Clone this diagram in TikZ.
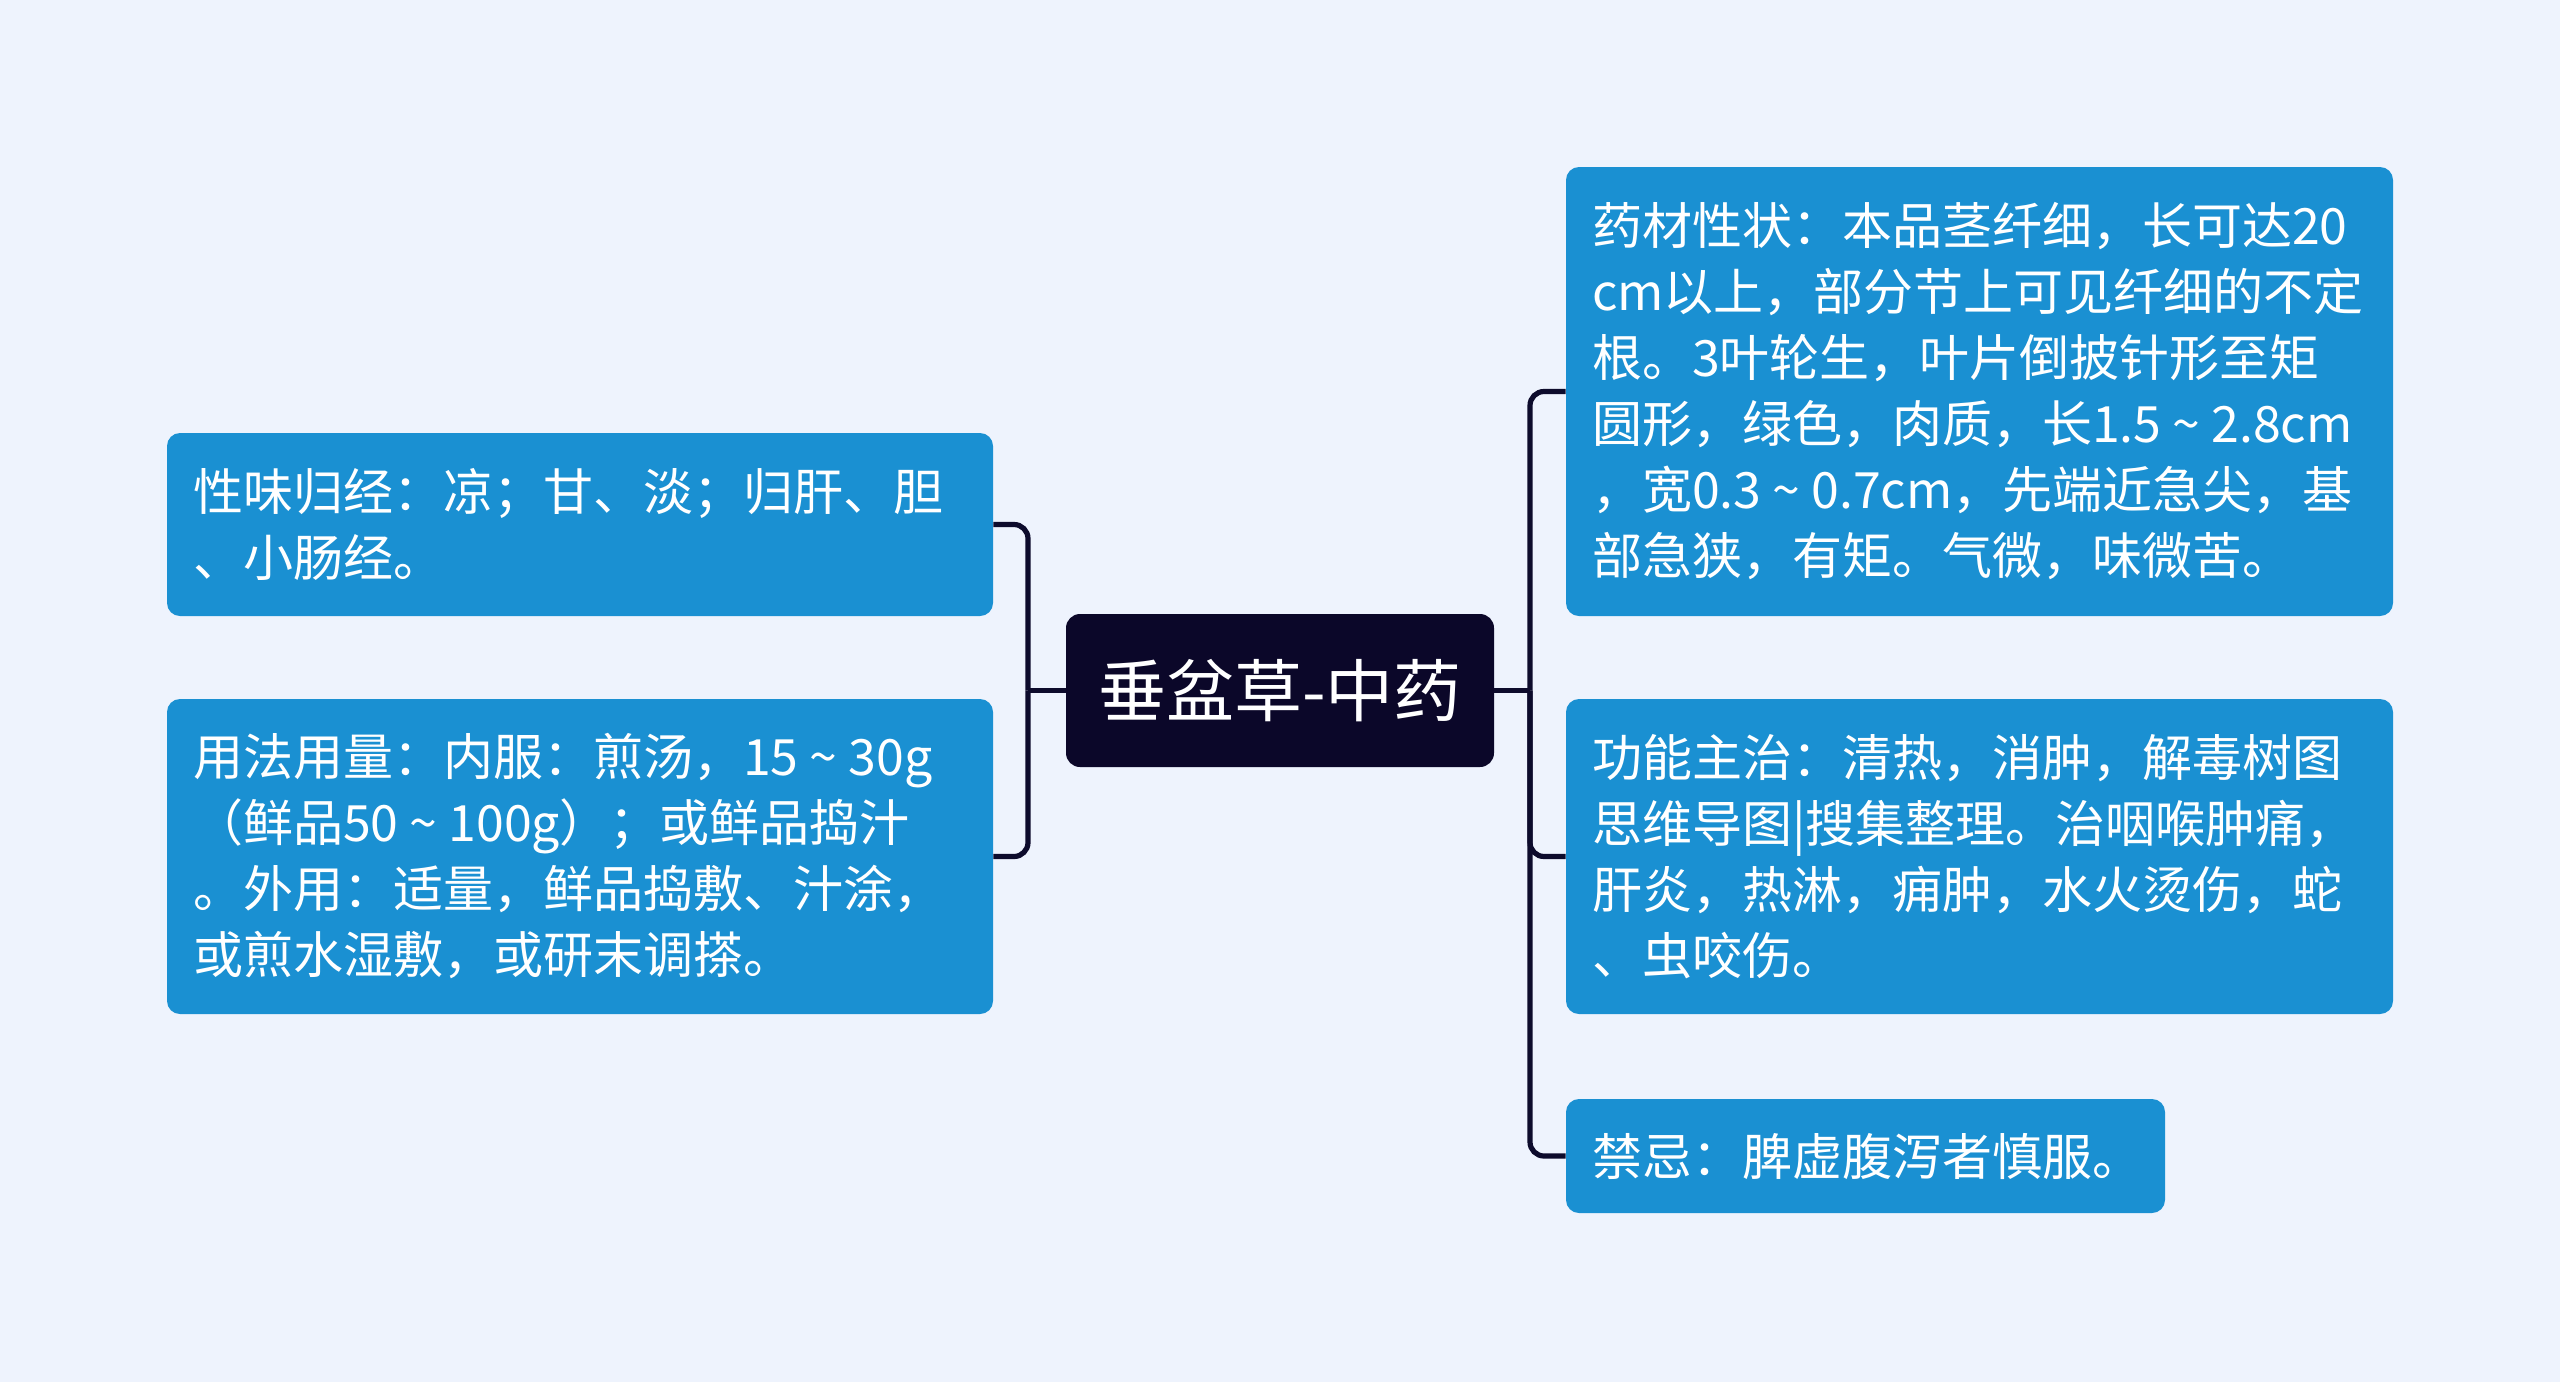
\documentclass[tikz,border=0pt]{standalone}
\usepackage{fontspec}
\setmainfont{Noto Sans CJK SC}
\definecolor{bgc}{HTML}{EEF3FD}
\definecolor{boxc}{HTML}{1A90D2}
\definecolor{rootc}{HTML}{0B0729}
\definecolor{linec}{HTML}{0D0B2C}
\newcommand{\wave}{\makebox[1em][c]{\textasciitilde}}
\begin{document}
\begin{tikzpicture}[x=1pt,y=1pt,
  leaf/.style={fill=boxc, rounded corners=6.5pt, text=white, align=left,
    font=\fontsize{25}{33}\selectfont, inner xsep=13pt, inner ysep=0pt},
  rootbox/.style={fill=rootc, rounded corners=7pt, text=white,
    font=\fontsize{34}{40}\selectfont, minimum width=214pt, minimum height=76.5pt, inner sep=0pt},
  conn/.style={draw=linec, line width=2.6pt, rounded corners=7pt}]
\fill[bgc] (0,0) rectangle (1280,-691);
\useasboundingbox (0,0) rectangle (1280,-691);

\node[rootbox] (c) at (640,-345.25) {垂盆草-中药};

\node[leaf, text width=387pt, minimum height=91.5pt] (l1) at (290,-262.25)
  {性味归经：凉；甘、淡；归肝、胆\\、小肠经。};
\node[leaf, text width=387pt, minimum height=157.5pt] (l2) at (290,-428.25)
  {用法用量：内服：煎汤，15\wave30g\\（鲜品50\wave100g）；或鲜品捣汁\\。外用：适量，鲜品捣敷、汁涂，\\或煎水湿敷，或研末调搽。};

\node[leaf, text width=387.5pt, minimum height=224.5pt] (r1) at (989.75,-195.75)
  {药材性状：本品茎纤细，长可达20\\cm以上，部分节上可见纤细的不定\\根。3叶轮生，叶片倒披针形至矩\\圆形，绿色，肉质，长1.5\wave2.8cm\\，宽0.3\wave0.7cm，先端近急尖，基\\部急狭，有矩。气微，味微苦。};
\node[leaf, text width=387.5pt, minimum height=157.5pt] (r2) at (989.75,-428.25)
  {功能主治：清热，消肿，解毒树图\\思维导图|搜集整理。治咽喉肿痛，\\肝炎，热淋，痈肿，水火烫伤，蛇\\、虫咬伤。};
\node[leaf, text width=273.5pt, minimum height=57pt] (r3) at (932.75,-578)
  {禁忌：脾虚腹泻者慎服。};

\coordinate (lj) at (514,-345.25);
\coordinate (rj) at (765,-345.25);
\draw[conn] (c.west) -- (lj);
\draw[conn] (lj) |- (l1.east);
\draw[conn] (lj) |- (l2.east);
\draw[conn] (c.east) -- (rj);
\draw[conn] (rj) |- (r1.west);
\draw[conn] (rj) |- (r2.west);
\draw[conn] (rj) |- (r3.west);
\end{tikzpicture}
\end{document}
